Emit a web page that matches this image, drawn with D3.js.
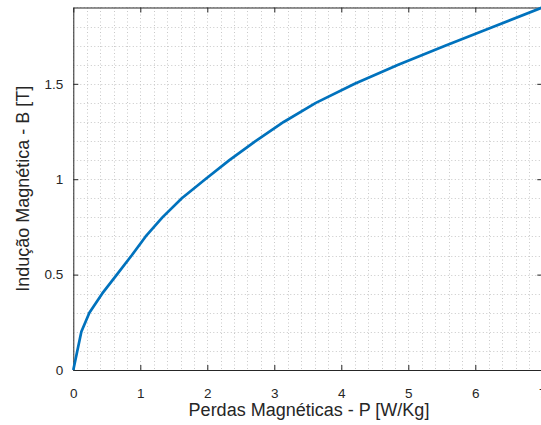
<!DOCTYPE html>
<html>
<head>
<meta charset="utf-8">
<script src="https://cdn.jsdelivr.net/npm/d3@7"></script>
<style>
  body { margin: 0; background: #fff; }
  text { font-family: "Liberation Sans", Arial, sans-serif; fill: #262626; }
</style>
</head>
<body>
<script>
'use strict';

// curve
const perdas  = [0, 0.12, 0.24, 0.43, 0.65, 0.87, 1.08, 1.33, 1.62, 1.97, 2.33, 2.72, 3.14, 3.62, 4.2, 4.85, 5.55, 6.28, 7.0];
const inducao = [0, 0.2, 0.3, 0.4, 0.5, 0.6, 0.7, 0.8, 0.9, 1.0, 1.1, 1.2, 1.3, 1.4, 1.5, 1.6, 1.7, 1.8, 1.9];

const xTicks = [0, 1, 2, 3, 4, 5, 6, 7];
const yTicks = [0, 0.5, 1, 1.5];
const xLabel = 'Perdas Magnéticas - P [W/Kg]';
const yLabel = 'Indução Magnética - B [T]';

const m = {left: 73.3, right: 542.3, top: 7.5, bottom: 370};

window.onload = function() {
  const svg = d3.select('body').append('svg')
    .attr('width', 541)
    .attr('height', 425);

  const x = d3.scaleLinear().domain([0, 7]).range([m.left, m.right]);
  const y = d3.scaleLinear().domain([0, 1.9]).range([m.bottom, m.top]);

  // minor grid (dotted)
  const xMinor = d3.range(0, 7.001, 0.2);
  const yMinor = d3.range(0, 1.9001, 0.1);
  const grid = svg.append('g')
    .attr('stroke', '#c8c8c8')
    .attr('stroke-width', 1)
    .attr('stroke-dasharray', '1,2.5');
  grid.selectAll('.gx').data(xMinor).enter().append('line')
    .attr('x1', d => Math.round(x(d)) + 0.5).attr('x2', d => Math.round(x(d)) + 0.5)
    .attr('y1', m.top).attr('y2', m.bottom);
  grid.selectAll('.gy').data(yMinor).enter().append('line')
    .attr('y1', d => Math.round(y(d)) + 0.5).attr('y2', d => Math.round(y(d)) + 0.5)
    .attr('x1', m.left).attr('x2', m.right);

  const fmt = d => String(d);

  // axes, ticks pointing inward like matlab
  const xAxis = d3.axisBottom(x).tickValues(xTicks).tickFormat(fmt).tickSizeInner(-5).tickSizeOuter(0).tickPadding(18);
  const yAxis = d3.axisLeft(y).tickValues(yTicks).tickFormat(fmt).tickSizeInner(-5).tickSizeOuter(0).tickPadding(10);

  svg.append('g')
    .attr('transform', 'translate(0,' + m.bottom + ')')
    .call(xAxis);
  svg.append('g')
    .attr('transform', 'translate(' + m.left + ',0)')
    .call(yAxis);
  // top and right, ticks only
  svg.append('g')
    .attr('transform', 'translate(0,' + m.top + ')')
    .call(d3.axisTop(x).tickValues(xTicks).tickSizeInner(-5).tickSizeOuter(0).tickFormat(''));
  svg.append('g')
    .attr('transform', 'translate(' + m.right + ',0)')
    .call(d3.axisRight(y).tickValues(yTicks).tickSizeInner(-5).tickSizeOuter(0).tickFormat(''));

  svg.selectAll('.domain, .tick line').attr('stroke', '#262626');
  svg.selectAll('.tick text')
    .style('font-size', '13.5px')
    .attr('fill', '#262626');

  // curve
  const line = d3.line()
    .x((d, i) => x(perdas[i]))
    .y(d => y(d));
  svg.append('path')
    .datum(inducao)
    .attr('d', line)
    .attr('fill', 'none')
    .attr('stroke', '#0072bd')
    .attr('stroke-width', 2.7)
    .attr('stroke-linejoin', 'round');

  // labels
  svg.append('text')
    .attr('x', 309)
    .attr('y', 416)
    .attr('text-anchor', 'middle')
    .style('font-size', '18px')
    .text(xLabel);

  svg.append('text')
    .attr('transform', 'translate(29,' + (m.top + m.bottom) / 2 + ')rotate(-90)')
    .attr('text-anchor', 'middle')
    .style('font-size', '18px')
    .text(yLabel);
};
</script>
</body>
</html>
